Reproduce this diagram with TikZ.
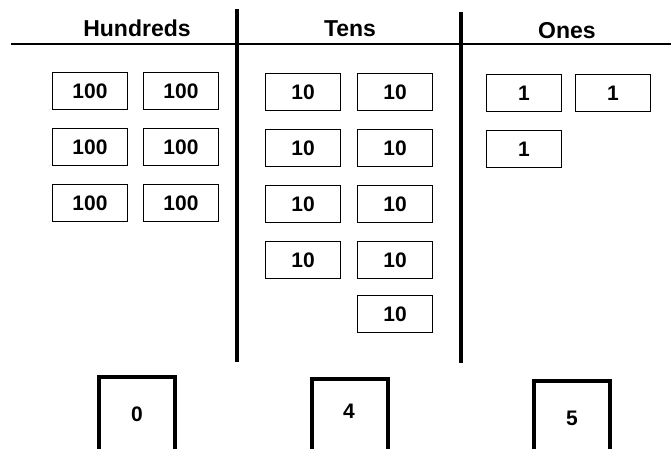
\documentclass[tikz,border=0pt]{standalone}
\usepackage{fontspec}
\setmainfont{Liberation Sans}
\begin{document}
\begin{tikzpicture}[x=1pt,y=-1pt,
  hdr/.style={font=\fontsize{23}{25}\selectfont\bfseries, inner sep=0pt},
  blk/.style={draw, line width=1.4pt, minimum width=75pt, minimum height=37pt, inner sep=0pt, font=\fontsize{21}{23}\selectfont\bfseries},
  digbox/.style={draw, line width=4pt, minimum width=76pt, minimum height=96pt, anchor=north, inner sep=0pt},
  digit/.style={font=\fontsize{21}{23}\selectfont\bfseries, inner sep=0pt},
  rule/.style={line width=2.5pt},
  divider/.style={line width=3.5pt}]
\useasboundingbox (0,0) rectangle (671,448);
\fill[white] (0,0) rectangle (671,448);
% headers
\node[hdr] (hH) at (137,28) {Hundreds};
\node[hdr] (hT) at (350,29) {Tens};
\node[hdr] (hO) at (567,31) {Ones};
% rules
\coordinate (rl) at (11,44);
\coordinate (rr) at (671,44);
\draw[rule] (rl) -- (rr);
\coordinate (v1t) at (237,9);
\coordinate (v1b) at (237,362);
\coordinate (v2t) at (461,12);
\coordinate (v2b) at (461,363);
\draw[divider] (v1t) -- (v1b);
\draw[divider] (v2t) -- (v2b);
% hundreds
\node[blk] (h11) at (90,91) {100};
\node[blk] (h12) at (181,91) {100};
\node[blk] (h21) at (90,147) {100};
\node[blk] (h22) at (181,147) {100};
\node[blk] (h31) at (90,203) {100};
\node[blk] (h32) at (181,203) {100};
% tens
\node[blk] (t11) at (303,92) {10};
\node[blk] (t12) at (395,92) {10};
\node[blk] (t21) at (303,148) {10};
\node[blk] (t22) at (395,148) {10};
\node[blk] (t31) at (303,204) {10};
\node[blk] (t32) at (395,204) {10};
\node[blk] (t41) at (303,260) {10};
\node[blk] (t42) at (395,260) {10};
\node[blk] (t52) at (395,314) {10};
% ones
\node[blk] (o11) at (524,93) {1};
\node[blk] (o12) at (613,93) {1};
\node[blk] (o21) at (524,149) {1};
% digit cards
\node[digbox] (dH) at (137,375) {};
\node[digbox] (dT) at (349.5,377) {};
\node[digbox] (dO) at (572,379) {};
\node[digit] (nH) at (137,414) {0};
\node[digit] (nT) at (349,411) {4};
\node[digit] (nO) at (572,418) {5};
\end{tikzpicture}
\end{document}
